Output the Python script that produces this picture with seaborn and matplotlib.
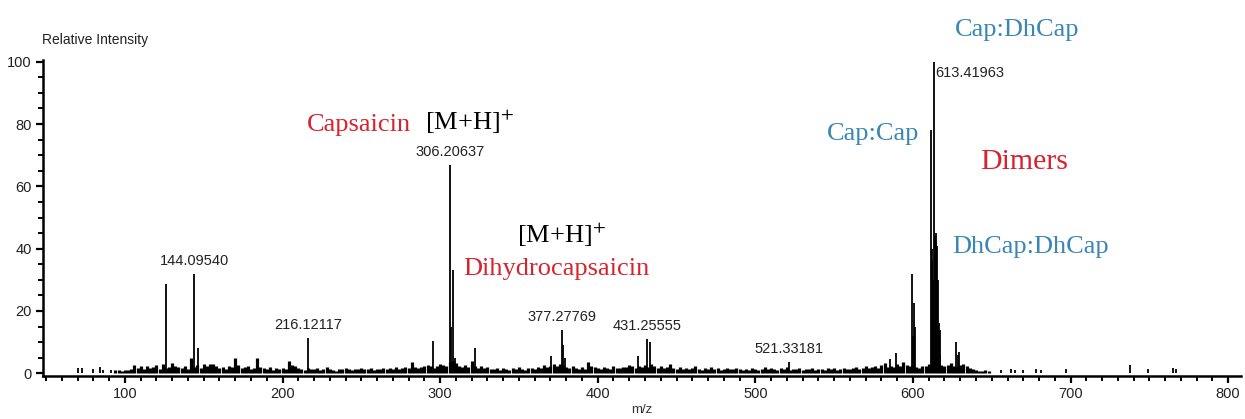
import numpy as np
import pandas as pd
import matplotlib
matplotlib.use("Agg")
import matplotlib.pyplot as plt
from matplotlib.ticker import MultipleLocator
import seaborn as sns

# ---- spectrum data (m/z, relative intensity %) ----
# annotated peaks
label_mz = [144.09540, 216.12117, 306.20637, 377.27769, 431.25555, 521.33181, 613.41963]
label_int = [31.8, 11.2, 66.7, 13.9, 11.0, 3.5, 100.0]

# other prominent peaks
peak_mz = [126.09, 146.10, 295.20, 307.21, 308.22, 309.22, 322.20, 370.30,
           378.28, 379.29, 425.30, 433.26, 585.40, 589.40, 599.40, 599.90,
           600.40, 601.40, 611.40, 611.90, 612.40, 612.90, 613.90, 614.42,
           614.90, 615.44, 615.90, 616.44, 616.90, 617.44, 627.40, 628.40,
           629.40]
peak_int = [28.8, 8.0, 10.5, 15.0, 33.0, 5.0, 8.2, 5.5,
            9.0, 5.0, 5.5, 10.0, 4.5, 6.5, 32.0, 12.0,
            22.5, 15.0, 78.0, 40.0, 36.0, 30.0, 44.0, 45.0,
            42.0, 41.0, 30.0, 16.0, 14.0, 6.0, 10.0, 6.0,
            7.0]

# chemical noise, sampled every 2 m/z from 94 to 648
noise_start, noise_step = 94, 2
noise_int = [
    1.0, 1.2, 0.9, 1.1, 1.0, 1.4, 2.6, 1.7, 2.3, 1.5, 2.5, 1.6, 2.0, 2.7, 1.3, 2.9, 1.8, 2.1, 3.2, 2.4,
    2.0, 1.6, 2.2, 1.5, 4.8, 1.9, 2.6, 1.8, 3.0, 2.2, 2.9, 3.1, 2.4, 1.7, 2.0, 1.5, 2.2, 1.9, 4.9, 2.8,
    1.6, 1.9, 2.3, 1.4, 1.7, 4.9, 2.1, 1.8, 1.5, 1.9, 1.2, 1.6, 1.4, 1.8, 1.3, 3.9, 2.7, 2.2, 1.6, 1.4,
    1.2, 1.8, 1.5, 1.3, 1.7, 1.1, 1.4, 1.9, 1.3, 1.2, 0.8, 1.5, 1.3, 1.6, 1.4, 1.2, 1.5, 1.3, 1.7, 1.4,
    1.3, 1.6, 1.2, 1.5, 1.4, 1.7, 1.3, 1.8, 1.5, 1.9, 1.4, 1.6, 2.1, 1.8, 3.5, 2.0, 1.6, 1.9, 2.4, 2.8,
    2.5, 1.8, 2.2, 3.0, 2.6, 2.4, 3.5, 4.0, 3.2, 2.4, 2.0, 2.6, 1.9, 3.8, 2.2, 1.7, 2.4, 1.6, 2.0, 1.5,
    1.4, 1.8, 1.2, 1.6, 1.3, 1.1, 1.7, 1.4, 1.9, 1.5, 1.2, 1.6, 1.8, 1.3, 2.1, 1.7, 2.6, 1.9, 2.3, 3.0,
    2.4, 3.1, 2.7, 2.0, 1.6, 2.2, 1.8, 1.4, 2.0, 1.5, 3.6, 2.4, 1.9, 1.6, 1.3, 2.0, 1.7, 1.4, 2.2, 1.8,
    1.6, 2.1, 1.9, 2.8, 2.4, 1.7, 2.2, 1.9, 2.6, 2.1, 3.0, 2.2, 1.8, 2.5, 1.6, 2.0, 2.9, 1.7, 1.5, 1.9,
    1.4, 1.6, 1.3, 1.8, 2.4, 1.5, 1.2, 1.7, 1.4, 1.9, 1.3, 1.6, 1.2, 1.5, 1.8, 1.4, 1.3, 1.7, 1.5, 1.2,
    1.4, 1.2, 1.6, 1.3, 1.1, 1.5, 2.0, 1.4, 1.8, 1.3, 1.2, 1.6, 1.4, 1.9, 1.2, 1.5, 1.3, 1.7, 1.1, 1.4,
    1.3, 1.6, 1.2, 1.5, 1.4, 1.1, 1.7, 1.3, 1.6, 1.2, 1.5, 1.8, 1.4, 1.3, 1.6, 1.9, 1.5, 1.8, 2.2, 1.7,
    2.0, 2.4, 1.8, 2.6, 3.2, 2.1, 2.5, 1.9, 3.0, 2.4, 3.6, 2.7, 2.2, 1.8, 2.0, 1.7, 2.5, 2.3, 2.9, 3.4,
    4.0, 3.1, 2.6, 2.2, 2.8, 3.3, 2.4, 1.9, 2.7, 3.0, 2.2, 1.8, 1.5, 1.2, 0.9, 0.8, 1.1, 0.7,
]

# isolated small signals at the low and high ends
sparse_mz = [70, 73, 80, 84, 86, 91, 656, 662, 665, 670, 678, 681, 697, 738, 749, 765, 767]
sparse_int = [1.8, 1.6, 1.5, 2.0, 1.2, 1.0, 1.0, 1.5, 1.2, 1.0, 1.4, 1.2, 1.3, 2.8, 1.5, 1.8, 1.5]

noise = pd.DataFrame({
    "mz": noise_start + noise_step * np.arange(len(noise_int)),
    "intensity": noise_int,
})
sticks = pd.DataFrame({
    "mz": np.concatenate([sparse_mz, peak_mz, label_mz]),
    "intensity": np.concatenate([sparse_int, peak_int, label_int]),
})

# ---- styling ----
sns.set_theme(style="ticks")
plt.rcParams["font.family"] = ["Liberation Sans", "DejaVu Sans"]
plt.rcParams["mathtext.fontset"] = "stix"

RED = "#d8232f"
BLUE = "#3a87b6"
SERIF = ["Liberation Serif", "DejaVu Serif"]

fig = plt.figure(figsize=(12.45, 4.19), dpi=100)
ax = fig.add_axes([0.0345, 0.1033, 0.9621, 0.7532])

# dense noise band, then individual centroid sticks on top
ax.vlines(noise["mz"], 0, noise["intensity"], color="black", lw=2.3)
ax.vlines(sticks["mz"], 0, sticks["intensity"], color="black", lw=1.3)

ax.set_xlim(48, 808)
ax.set_ylim(-0.77, 100.5)
sns.despine(ax=ax)
for side in ("left", "bottom"):
    ax.spines[side].set_linewidth(1.8)
    ax.spines[side].set_color("black")

ax.xaxis.set_major_locator(MultipleLocator(100))
ax.xaxis.set_minor_locator(MultipleLocator(10))
ax.yaxis.set_major_locator(MultipleLocator(20))
ax.yaxis.set_minor_locator(MultipleLocator(5))
ax.tick_params(axis="both", which="major", length=5, width=1.6, color="black",
               labelsize=10.5, labelcolor="#222222", pad=3)
ax.tick_params(axis="both", which="minor", length=3.5, width=1.4, color="black")
ax.set_xticks([100, 200, 300, 400, 500, 600, 700, 800])

ax.set_xlabel("m/z", fontsize=9.5, color="#333333", labelpad=2)
ax.set_ylabel("")
fig.text(42 / 1245, 1 - 40 / 419, "Relative Intensity", fontsize=10,
         color="#222222", ha="left", va="center")

# ---- peak m/z labels ----
for mz, h in zip(label_mz, label_int):
    if mz > 600:
        ax.text(mz + 0.8, h - 3.5, f"{mz:.5f}", fontsize=10.5, color="#222222",
                ha="left", va="center")
    else:
        ax.text(mz, h + 2.0, f"{mz:.5f}", fontsize=10.5, color="#222222",
                ha="center", va="bottom")

# ---- compound annotations ----
ax.text(215.5, 77.7, "Capsaicin", color=RED, fontsize=19, family=SERIF,
        ha="left", va="baseline")
ax.text(290.4, 78.0, r"[M+H]$^{+}$", color="black", fontsize=19, family=SERIF,
        ha="left", va="baseline")
ax.text(348.6, 41.7, r"[M+H]$^{+}$", color="black", fontsize=19, family=SERIF,
        ha="left", va="baseline")
ax.text(314.7, 31.5, "Dihydrocapsaicin", color=RED, fontsize=19, family=SERIF,
        ha="left", va="baseline")
ax.text(626.7, 108.4, "Cap:DhCap", color=BLUE, fontsize=19, family=SERIF,
        ha="left", va="baseline", clip_on=False)
ax.text(545.6, 74.8, "Cap:Cap", color=BLUE, fontsize=19, family=SERIF,
        ha="left", va="baseline")
ax.text(642.5, 65.7, "Dimers", color=RED, fontsize=21.5, family=SERIF,
        ha="left", va="baseline")
ax.text(625.2, 38.5, "DhCap:DhCap", color=BLUE, fontsize=19, family=SERIF,
        ha="left", va="baseline")

fig.savefig("out.png", dpi=100, facecolor="white")
